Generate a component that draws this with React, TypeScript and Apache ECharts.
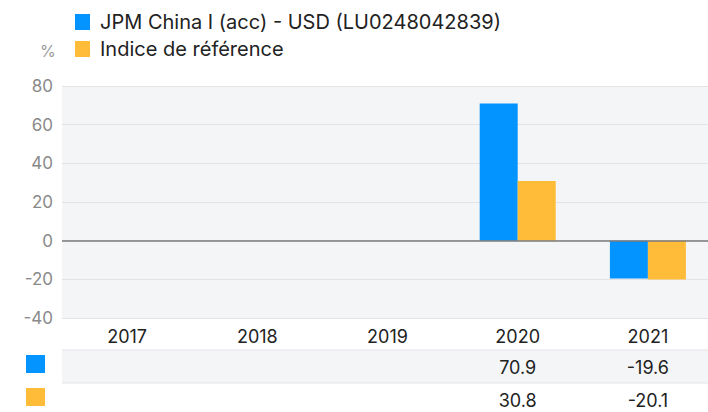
import React, { useEffect, useRef } from "react";
import * as echarts from "echarts";

const categories = ["2017", "2018", "2019", "2020", "2021"];
const fundName = "JPM China I (acc) - USD (LU0248042839)";
const benchName = "Indice de référence";
const fundValues: (number | null)[] = [null, null, null, 70.9, -19.6];
const benchValues: (number | null)[] = [null, null, null, 30.8, -20.1];
const yTicks = { min: -40, max: 80, interval: 20 };

const BLUE = "#0394FF";
const ORANGE = "#FFBC39";
const FONT = "Inter, 'Noto Sans', sans-serif";

export default function App() {
  const ref = useRef<HTMLDivElement>(null);
  useEffect(() => {
    if (!ref.current) return;
    const chart = echarts.init(ref.current, null, { renderer: "svg" });
    const option: any = {
      animation: false,
      backgroundColor: "#ffffff",
      textStyle: { fontFamily: FONT },
      legend: {
        orient: "vertical",
        left: 75,
        top: 12,
        padding: 0,
        itemWidth: 15,
        itemHeight: 16,
        itemGap: 7,
        icon: "rect",
        textStyle: { fontSize: 20, color: "#222", fontFamily: FONT, padding: [0, 0, 0, 5] },
        data: [fundName, benchName],
      },
      grid: {
        left: 62,
        top: 86,
        width: 651,
        height: 232,
        show: true,
        backgroundColor: "#f4f5f7",
        borderWidth: 0,
        containLabel: false,
        outerBoundsMode: "none",
      },
      xAxis: {
        type: "category",
        data: categories,
        position: "bottom",
        axisLine: { show: false },
        axisTick: { show: false },
        axisLabel: { fontSize: 18, color: "#222", margin: 9, fontFamily: FONT },
      },
      yAxis: {
        type: "value",
        min: yTicks.min,
        max: yTicks.max,
        interval: yTicks.interval,
        axisLine: { show: false },
        axisTick: { show: false },
        axisLabel: { fontSize: 17, color: "#8a8a8a", margin: 9, fontFamily: FONT },
        splitLine: { lineStyle: { color: "#e2e3e7", width: 1 } },
      },
      series: [
        {
          name: fundName,
          type: "bar",
          data: fundValues,
          barWidth: 38,
          barGap: "0%",
          itemStyle: { color: BLUE },
          markLine: {
            silent: true,
            symbol: "none",
            label: { show: false },
            lineStyle: { color: "#7a7a7a", type: "solid", width: 1.5 },
            data: [{ yAxis: 0 }],
          },
        },
        {
          name: benchName,
          type: "bar",
          data: benchValues,
          barWidth: 38,
          barGap: "0%",
          itemStyle: { color: ORANGE },
        },
      ],
    };
    chart.setOption(option);

    const row1Y = 350;
    const row2Y = 383;
    const rowH = 33;
    const elements: any[] = [
      {
        type: "text",
        left: 40,
        top: 43,
        style: { text: "%", fontSize: 16, fill: "#9a9a9a", fontFamily: FONT },
      },
      { type: "rect", shape: { x: 62, y: row1Y, width: 646, height: rowH }, style: { fill: "#f4f5f7" } },
      { type: "line", shape: { x1: 62, y1: row1Y, x2: 708, y2: row1Y }, style: { stroke: "#e2e3e7", lineWidth: 1 } },
      { type: "line", shape: { x1: 62, y1: row2Y, x2: 708, y2: row2Y }, style: { stroke: "#e2e3e7", lineWidth: 1 } },
      { type: "rect", shape: { x: 26, y: 355, width: 19, height: 18 }, style: { fill: BLUE } },
      { type: "rect", shape: { x: 26, y: 388, width: 19, height: 18 }, style: { fill: ORANGE } },
    ];
    categories.forEach((c, i) => {
      const x = chart.convertToPixel({ xAxisIndex: 0 }, c) as number;
      const rows: [(number | null)[], number][] = [
        [fundValues, row1Y + rowH / 2 + 0.5],
        [benchValues, row2Y + rowH / 2 + 0.5],
      ];
      rows.forEach(([arr, y]) => {
        const v = arr[i];
        if (v === null) return;
        elements.push({
          type: "text",
          x,
          y,
          style: {
            text: v.toFixed(1),
            fontSize: 18,
            fill: "#222",
            fontFamily: FONT,
            align: "center",
            verticalAlign: "middle",
          },
        });
      });
    });
    chart.setOption({ graphic: elements });
    return () => chart.dispose();
  }, []);
  return <div ref={ref} style={{ width: 708, height: 412, position: "absolute", left: 0, top: 0 }} />;
}
